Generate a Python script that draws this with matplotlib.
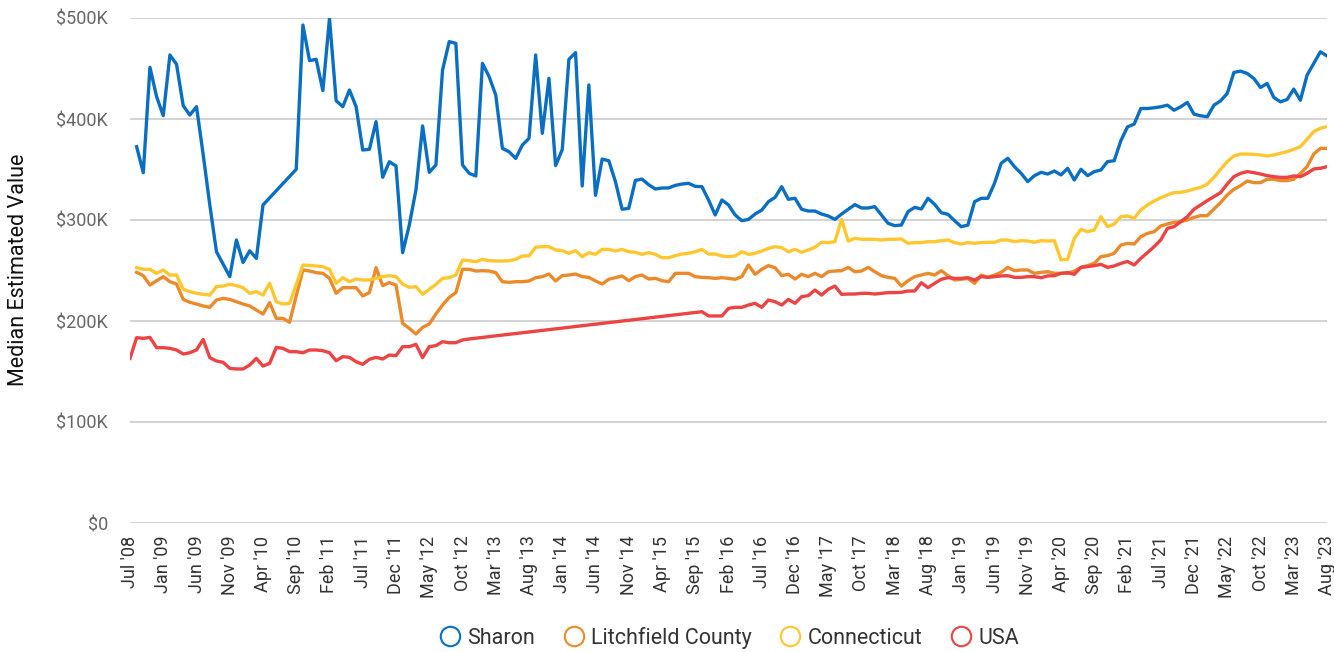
import numpy as np
import matplotlib.pyplot as plt

plt.rcParams['font.family'] = ['Roboto', 'DejaVu Sans']

# tick labels, one every 5 months (first gap is 6 months)
tick_labels = ["Jul '08", "Jan '09", "Jun '09", "Nov '09", "Apr '10", "Sep '10", "Feb '11",
               "Jul '11", "Dec '11", "May '12", "Oct '12", "Mar '13", "Aug '13", "Jan '14",
               "Jun '14", "Nov '14", "Apr '15", "Sep '15", "Feb '16", "Jul '16", "Dec '16",
               "May '17", "Oct '17", "Mar '18", "Aug '18", "Jan '19", "Jun '19", "Nov '19",
               "Apr '20", "Sep '20", "Feb '21", "Jul '21", "Dec '21", "May '22", "Oct '22",
               "Mar '23", "Aug '23"]

# median estimated value, thousands of dollars (None = no data that month)
sharon = [None, 372.6, 346.8, 451.2, 422.1, 403.3, 463.4, 454.1, 413.2, 403.9,
          412.2, 365, 315, 268.6, 256.4, 243.9, 280.2, 258, 269.5, 262,
          314.9, None, None, None, None, 350.2, 493.1, 457.8, 459.1, 428.1,
          499.7, 418.1, 412.2, 428.7, 412.2, 369.3, 370, 397.4, 342.3, 357.7,
          353.5, 267.6, 295, 329.8, 393.1, 347.2, 354.5, 448.5, 476.6, 474.9,
          354.5, 346.2, 343.6, 455.1, 442, 423.8, 370.9, 367.6, 361, 374.2,
          380.8, 463.4, 385.8, 440.3, 353.9, 369.7, 459.1, 465.7, 333.7, 433.7,
          324.4, 360.3, 358.7, 337.9, 310.6, 311.6, 339.2, 340.5, 334.9, 330.7,
          331.7, 331.7, 334.3, 335.6, 336.3, 333.3, 333, 319.8, 305, 319.8,
          314.9, 305, 299.3, 300.6, 305.9, 309.8, 318.1, 322.4, 333, 320.5,
          321.5, 310.6, 308.9, 308.9, 305.9, 304, 300.6, 305.9, 310.6, 315.2,
          311.9, 311.9, 313.2, 305, 296.7, 294.4, 295.1, 308.3, 312.5, 310.9,
          321.5, 315.5, 307.2, 305.6, 299.3, 293.4, 295, 318.1, 321.5, 321.5,
          336.3, 356.1, 361.1, 352.8, 346.2, 338, 343.9, 347.2, 345.5, 348.5,
          344.6, 351.2, 339.6, 350.2, 343.9, 347.9, 349.5, 357.8, 358.7, 378.5,
          392.2, 394.9, 410.4, 410.4, 411.1, 412.1, 413.7, 408.7, 412.1, 416.4,
          404.8, 403.2, 402.2, 413.7, 418, 425.3, 446.1, 447.4, 445.1, 440.1,
          431.2, 435.2, 421.3, 417, 419.3, 429.6, 418.6, 443.4, 455, 466.5,
          462.5]

litchfield = [None, 248.2, 244.9, 235.6, 239.9, 243.9, 238.9, 236.6, 221.4, 218.5,
              216.8, 214.9, 213.5, 220.8, 222.4, 221.4, 219.1, 216.8, 214.9, 210.9,
              206.9, 218.2, 202.6, 202.6, 198.7, 225, 250.5, 249.5, 247.9, 247.2,
              242.2, 227.4, 233, 233, 233, 224.8, 228.1, 252.8, 235, 238,
              235.6, 197.7, 192.7, 187.1, 193.7, 197, 206.9, 215.8, 223.4, 228.1,
              251.2, 251.2, 249.5, 249.8, 249.5, 247.9, 238.9, 238.3, 238.9, 238.9,
              239.6, 242.9, 243.9, 246.5, 239.6, 244.9, 245.5, 246.5, 243.9, 243.2,
              239.6, 236.6, 241.3, 242.9, 244.6, 239.9, 243.9, 245.5, 241.6, 242.2,
              239.9, 238.9, 247.2, 247.2, 247.2, 243.9, 243.2, 242.9, 242.2, 242.9,
              242.2, 241.3, 243.9, 255.4, 246.2, 251.2, 254.8, 252.8, 244.9, 246.2,
              241.6, 246.2, 243.9, 247.2, 243.9, 248.8, 249.5, 249.8, 253.1, 248.8,
              249.5, 253.1, 248.8, 244.9, 243.2, 242.2, 234.6, 239.9, 243.9, 245.5,
              247.2, 245.5, 249.8, 244.9, 240.6, 241.3, 242.2, 237.3, 245.5, 243.2,
              245.5, 248.2, 253.1, 249.8, 250.5, 250.5, 247.2, 248.2, 248.8, 247.2,
              247.2, 247.2, 249.5, 253.1, 254.8, 257.1, 263.7, 264.7, 267, 275.2,
              276.9, 276.2, 283.5, 286.8, 288.4, 294.1, 296, 297.7, 298.3, 300,
              302.6, 304.3, 304.3, 310.9, 317.2, 324.8, 330.4, 334, 338.6, 337,
              337, 340.3, 340.3, 339, 339, 340.3, 346.2, 352.8, 365.3, 370.9,
              370.9]

connecticut = [None, 252.8, 251.2, 251.2, 247.2, 250.5, 245.5, 245.5, 231.4, 229.1,
               227.4, 226.4, 225.7, 234, 234.6, 236.3, 235, 233, 227.4, 229.1,
               225.7, 237.3, 219.1, 216.8, 217.5, 236, 255.4, 255.1, 254.5, 253.8,
               251.2, 237.3, 242.9, 238.9, 241.6, 240.6, 240.6, 242.2, 243.9, 244.9,
               243.9, 236.6, 233.3, 234, 226.4, 231.4, 236.3, 242.2, 242.9, 245.5,
               260.4, 259.7, 258.7, 261.1, 259.7, 259.4, 259.4, 259.7, 261.1, 264.4,
               264.4, 273, 273.6, 273.6, 270.3, 269.6, 267, 269.6, 263.7, 267.7,
               266, 270.9, 270.9, 269.3, 270.9, 268.6, 268, 266, 267.7, 266,
               262.7, 262.7, 264.7, 266.3, 267, 268.6, 270.9, 266.3, 266.3, 264.4,
               263.7, 264.4, 268.6, 266, 267, 269.3, 271.9, 273.6, 272.6, 268.6,
               270.9, 268, 270.3, 273, 277.9, 277.6, 278.5, 300.7, 279.2, 281.8,
               280.9, 280.9, 280.9, 280.2, 280.9, 280.9, 281.2, 276.9, 277.6, 277.6,
               278.5, 278.5, 279.5, 280.2, 277.6, 276.2, 277.6, 276.9, 277.6, 277.9,
               277.9, 280.2, 280.2, 278.5, 279.5, 279.2, 277.9, 279.5, 279.2, 279.5,
               260.4, 261.1, 281.8, 290.7, 288.4, 290.1, 303.3, 293.4, 296, 303.3,
               304, 301.7, 309.9, 314.9, 318.8, 322.1, 324.8, 327.1, 327.4, 328.7,
               330.7, 332.3, 335.6, 342.2, 350.2, 357.8, 363.4, 365.3, 365.3, 365,
               364.4, 363.4, 364.4, 366, 367.7, 370, 372.6, 379.9, 387.5, 390.8,
               392.4]

usa = [163, 183.5, 182.8, 183.8, 173.6, 173.6, 172.9, 171.3, 167.3, 168.6,
       171.3, 181.8, 163.7, 160.4, 159.1, 153.1, 152.5, 152.5, 156.4, 163,
       155.4, 158.1, 173.9, 172.9, 169.6, 169.6, 168.6, 171.3, 171.3, 170.6,
       168.6, 160.7, 164.7, 164, 159.7, 157.1, 162.1, 164, 162.4, 166.3,
       165.7, 174.6, 174.6, 176.9, 163.7, 174.6, 175.6, 179.5, 178.5, 178.5,
       181.2, 182.2] + [None] * 34 + [
       209.2, 205, 205, 205, 212.5, 213.5, 213.5, 215.8, 217.5, 213.5,
       220.8, 219.1, 215.8, 221.4, 217.5, 224.1, 225.1, 230.7, 225.7, 231.4,
       234.6, 226.4, 226.7, 226.7, 227.4, 227.4, 226.7, 227.4, 228.1, 228.1,
       228.4, 229.7, 229.7, 237.9, 233, 237.3, 241.3, 242.9, 242.2, 242.2,
       242.9, 240.6, 243.9, 243.2, 243.9, 244.6, 244.9, 243.2, 243.2, 243.9,
       243.9, 242.9, 244.6, 244.9, 247.2, 247.9, 246.2, 253.1, 253.8, 254.8,
       256.1, 253.1, 254.5, 257, 259, 255.4, 262, 267.7, 273.6, 280.2,
       291.7, 293.4, 298.3, 303.3, 310.6, 314.9, 319.2, 323.1, 327.1, 335.6,
       342.9, 346.2, 347.9, 346.9, 345.5, 343.9, 342.9, 342.2, 342.2, 343.6,
       342.9, 346.2, 350.5, 351.2, 352.8]

series = [("Sharon", sharon, "#0a6fc2"),
          ("Litchfield County", litchfield, "#ea8a2b"),
          ("Connecticut", connecticut, "#fec72f"),
          ("USA", usa, "#ec4343")]

fig = plt.figure(figsize=(13.34, 6.52), dpi=100)
ax = fig.add_axes([130 / 1334, 1 - 523 / 652, 1197 / 1334, 505 / 652])

for name, vals, color in series:
    # skip missing months, line joins across the gap
    x = [i for i, v in enumerate(vals) if v is not None]
    y = [v for v in vals if v is not None]
    ax.plot(x, y, color=color, lw=2.4, solid_joinstyle='round', label=name)

ax.set_xlim(0, 180)
ax.set_ylim(0, 500)
ax.set_yticks(np.arange(0, 501, 100))
ax.set_yticklabels(['$0' if v == 0 else '${}K'.format(v) for v in range(0, 501, 100)])
ax.set_xticks(np.arange(0, 181, 5))
ax.set_xticklabels(tick_labels, rotation=90)
ax.tick_params(axis='y', length=0, pad=16, labelsize=13, labelcolor='#666666')
ax.tick_params(axis='x', length=0, pad=9, labelsize=13, labelcolor='#333333')
ax.grid(axis='y', color='#cccccc', lw=1.2)
ax.set_axisbelow(True)
for s in ax.spines.values():
    s.set_visible(False)

fig.text(19 / 1334, 1 - 270 / 652, 'Median Estimated Value', rotation=90,
         ha='center', va='center', fontsize=15.5, color='#111111')

handles = [plt.Line2D([], [], ls='none', marker='o', ms=14, mfc='none',
                      mec=c, mew=1.5) for _, _, c in series]
fig.legend(handles, [n for n, _, _ in series], loc='center', ncol=4,
           bbox_to_anchor=(728 / 1334, 1 - 638 / 652), frameon=False,
           fontsize=15.5, labelcolor='#333333', handletextpad=0.2,
           columnspacing=1.2, handlelength=1.2)

fig.savefig('out.png', dpi=100)
